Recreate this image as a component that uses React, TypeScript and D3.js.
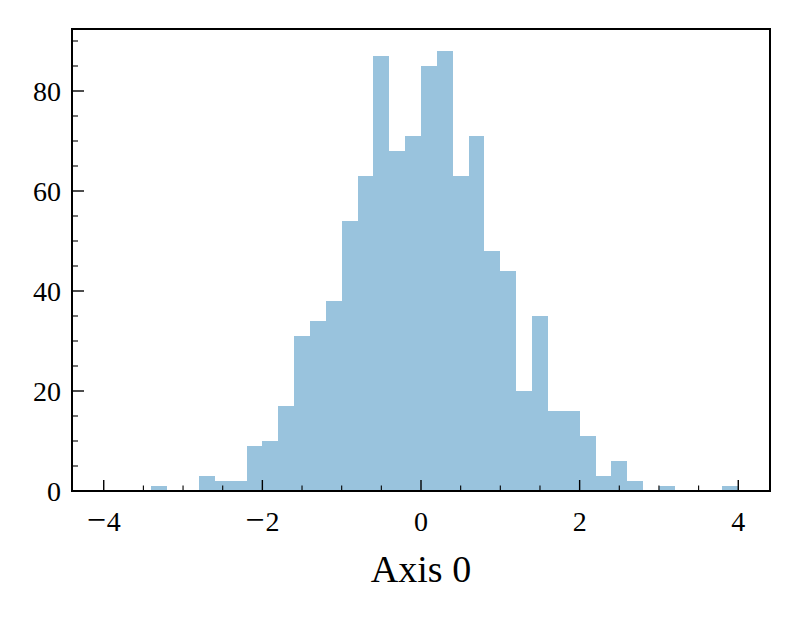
import * as d3 from 'd3';

const BIN_EDGES = [
  -4.0, -3.8, -3.6, -3.4, -3.2, -3.0, -2.8, -2.6, -2.4, -2.2, -2.0,
  -1.8, -1.6, -1.4, -1.2, -1.0, -0.8, -0.6, -0.4, -0.2, 0.0,
  0.2, 0.4, 0.6, 0.8, 1.0, 1.2, 1.4, 1.6, 1.8, 2.0,
  2.2, 2.4, 2.6, 2.8, 3.0, 3.2, 3.4, 3.6, 3.8, 4.0,
];

const COUNTS = [
  0, 0, 0, 1, 0, 0, 3, 2, 2, 9,
  10, 17, 31, 34, 38, 54, 63, 87, 68, 71,
  85, 88, 63, 71, 48, 44, 20, 35, 16, 16,
  11, 3, 6, 2, 0, 1, 0, 0, 0, 1,
];

const X_MAJOR = [-4, -2, 0, 2, 4];
const X_MINOR = [-3.5, -3, -2.5, -1.5, -1, -0.5, 0.5, 1, 1.5, 2.5, 3, 3.5];
const Y_MAJOR = [0, 20, 40, 60, 80];
const Y_MINOR = [5, 10, 15, 25, 30, 35, 45, 50, 55, 65, 70, 75, 85, 90];

const X_LABEL = 'Axis 0';

const W = 799;
const H = 619;
const M = { left: 72, right: 770, top: 29, bottom: 491 };
const FONT = '"Liberation Serif", "DejaVu Serif", serif';
const BAR = '#99c3dd';

// TeX minus is longer than the Liberation one, so bump it a little
const label = (v: number) =>
  v < 0 ? (
    <>
      <tspan fontSize={34}>{'\u2212'}</tspan>
      <tspan dx={1}>{Math.abs(v)}</tspan>
    </>
  ) : (
    `${v}`
  );

export default function App() {
  const x = d3.scaleLinear().domain([-4.4, 4.4]).range([M.left, M.right]);
  const yMax = (d3.max(COUNTS) ?? 0) * 1.05;
  const y = d3.scaleLinear().domain([0, yMax]).range([M.bottom, M.top]);

  const bars = COUNTS.map((c, i) => ({ x0: BIN_EDGES[i], x1: BIN_EDGES[i + 1], c })).filter((b) => b.c > 0);

  return (
    <>
      <style>{'body{margin:0}'}</style>
      <svg width={W} height={H} style={{ display: 'block', background: '#fff' }}>
        <g>
          {bars.map((b, i) => (
            <rect
              key={i}
              x={x(b.x0)}
              y={y(b.c)}
              width={x(b.x1) - x(b.x0)}
              height={y(0) - y(b.c)}
              fill={BAR}
              shapeRendering="crispEdges"
            />
          ))}
        </g>

        {/* ticks point inward, left and bottom only */}
        <g stroke="#000" strokeWidth={1.4}>
          {X_MAJOR.map((t) => (
            <line key={t} x1={x(t)} x2={x(t)} y1={M.bottom} y2={M.bottom - 11} />
          ))}
          {X_MINOR.map((t) => (
            <line key={t} x1={x(t)} x2={x(t)} y1={M.bottom} y2={M.bottom - 5.5} strokeWidth={1.1} />
          ))}
          {Y_MAJOR.map((t) => (
            <line key={t} x1={M.left} x2={M.left + 12} y1={y(t)} y2={y(t)} />
          ))}
          {Y_MINOR.map((t) => (
            <line key={t} x1={M.left} x2={M.left + 6} y1={y(t)} y2={y(t)} strokeWidth={1.1} />
          ))}
        </g>

        <rect
          x={M.left}
          y={M.top}
          width={M.right - M.left}
          height={M.bottom - M.top}
          fill="none"
          stroke="#000"
          strokeWidth={2}
        />

        <g fontFamily={FONT} fontSize={28} fill="#000">
          {X_MAJOR.map((t) => (
            <text key={t} x={x(t)} y={531} textAnchor="middle">
              {label(t)}
            </text>
          ))}
          {Y_MAJOR.map((t) => (
            <text key={t} x={61} y={y(t)} dy="0.34em" textAnchor="end">
              {label(t)}
            </text>
          ))}
        </g>

        <text
          x={(M.left + M.right) / 2}
          y={582}
          textAnchor="middle"
          fontFamily={FONT}
          fontSize={38}
          fill="#000"
        >
          {X_LABEL}
        </text>
      </svg>
    </>
  );
}
